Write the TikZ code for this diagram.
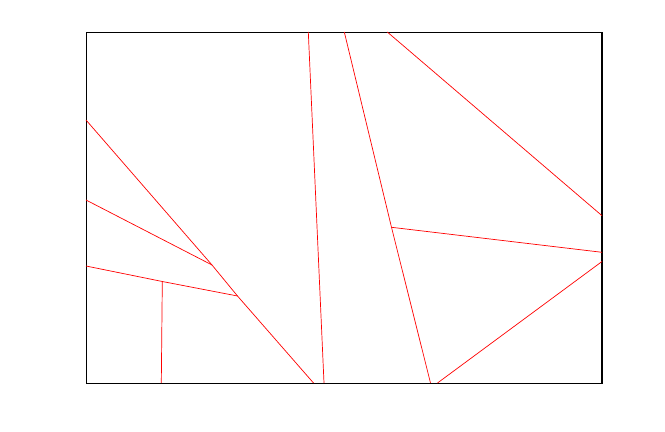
\documentclass[tikz,border=0pt]{standalone}
\usepackage{tikz}
\usepackage{xcolor}

\begin{document}
\begin{tikzpicture}[x=0.03cm,y=-0.03cm]
\useasboundingbox[fill=white] (0,0) rectangle (665,432);
% frame
\draw[black,line width=0.8pt] (86,383.5) -- (86,32) -- (602,32);
\draw[black,line width=1.6pt] (86,383.5) -- (602,383.5) -- (602,32);
% cuts
\begin{scope}[red,line width=0.6pt]
\coordinate (p1) at (212,265);
\coordinate (p2) at (237.5,296);
\coordinate (p3) at (162.3,281.5);
\coordinate (p4) at (391.5,227.3);
\draw (86,120) -- (p1) -- (p2) -- (313.5,383);
\draw (86,200) -- (p1);
\draw (86,266) -- (p3) -- (p2);
\draw (p3) -- (161.3,383);
\draw (308.3,32) -- (324,383);
\draw (344.3,32) -- (p4) -- (430.5,383);
\draw (387.3,32) -- (602,215.7);
\draw (p4) -- (602,252.3);
\draw (437.5,383) -- (602,261.5);
\end{scope}
\end{tikzpicture}
\end{document}
